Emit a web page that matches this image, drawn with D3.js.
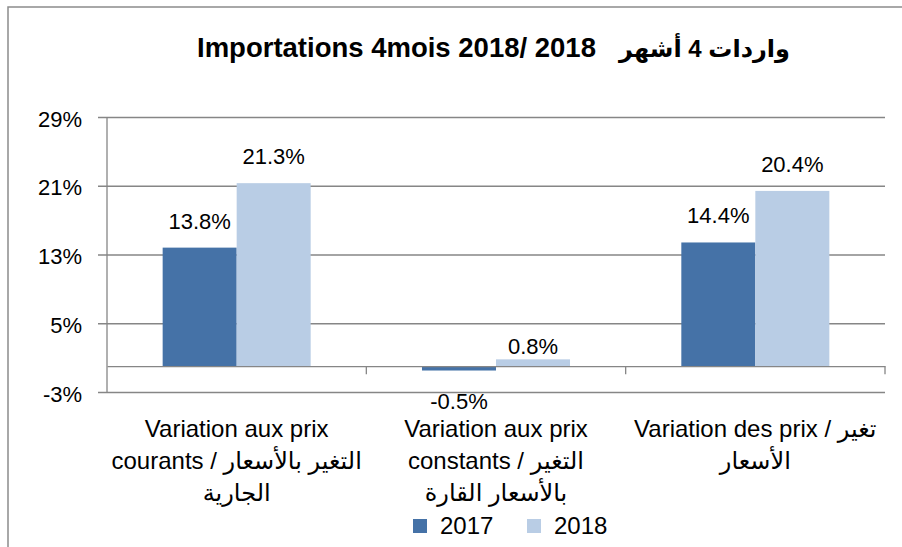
<!DOCTYPE html>
<html>
<head>
<meta charset="utf-8">
<script src="https://cdn.jsdelivr.net/npm/d3@7"></script>
<style>
  body { margin: 0; background: #fff; }
  svg { display: block; }
  text { font-family: "Liberation Sans", "DejaVu Sans", sans-serif; fill: #000; }
</style>
</head>
<body>
<div id="chart"></div>
<script>
// data
var categories = ["prixCourants", "prixConstants", "desPrix"];
var categoryLines = [
  ["Variation aux prix", "courants /  التغير بالأسعار", "الجارية"],
  ["Variation aux prix", "constants /  التغير", "بالأسعار القارة"],
  ["Variation des prix /  تغير", "الأسعار"]
];
var series = ["2017", "2018"];
var values2017 = [13.8, -0.5, 14.4];
var values2018 = [21.3, 0.8, 20.4];
var yTicks = [-3, 5, 13, 21, 29];

var cfg = {
  w: 902,
  h: 547,
  plot: {left: 107, right: 885, top: 117, bottom: 392},
  color: ["#4572a7", "#b9cde5"],
  grid: "#868686"
};

var data = categories.map(function(c, i) {
  return {cat: c, lines: categoryLines[i], vals: [
    {s: series[0], v: values2017[i]},
    {s: series[1], v: values2018[i]}
  ]};
});

var svg = d3.select("#chart")
  .append("svg")
  .attr("width", cfg.w)
  .attr("height", cfg.h);

// outer chart border
svg.append("rect")
  .attr("x", 8).attr("y", 7)
  .attr("width", cfg.w).attr("height", cfg.h)
  .attr("fill", "none")
  .attr("stroke", "#8c8c8c")
  .attr("stroke-width", 1.5);

// title
svg.append("text")
  .attr("x", 197).attr("y", 57)
  .attr("font-size", "27.5px").attr("font-weight", "bold")
  .text("Importations 4mois 2018/ 2018");
svg.append("text")
  .attr("x", 790).attr("y", 57)
  .attr("text-anchor", "end")
  .attr("font-size", "24px").attr("font-weight", "bold")
  .text("واردات 4 أشهر");

// scales
var x0 = d3.scaleBand()
  .domain(categories)
  .range([cfg.plot.left, cfg.plot.right]);

var x1 = d3.scaleBand()
  .domain(series)
  .range([0, x0.bandwidth()])
  .paddingOuter(0.752);

var y = d3.scaleLinear()
  .domain([yTicks[0], yTicks[yTicks.length - 1]])
  .range([cfg.plot.bottom, cfg.plot.top]);

// gridlines + y axis
var yAxis = svg.append("g")
  .attr("transform", "translate(" + cfg.plot.left + ",0)")
  .call(d3.axisLeft(y)
    .tickValues(yTicks)
    .tickSize(-(cfg.plot.right - cfg.plot.left))
    .tickPadding(0)
    .tickFormat(function(d) { return d + "%"; }));
yAxis.select(".domain").remove();
yAxis.selectAll("line")
  .attr("x1", -9)
  .attr("stroke", cfg.grid)
  .attr("stroke-width", 1.3);
yAxis.selectAll("text")
  .attr("x", -25)
  .attr("dy", null)
  .attr("y", 9)
  .attr("font-size", "22px")
  .attr("fill", "#000");

svg.append("line")
  .attr("x1", cfg.plot.left).attr("x2", cfg.plot.left)
  .attr("y1", cfg.plot.top).attr("y2", cfg.plot.bottom)
  .attr("stroke", cfg.grid).attr("stroke-width", 1.3);

// bars
var groups = svg.selectAll(".grp")
  .data(data)
  .enter()
  .append("g")
  .attr("class", "grp")
  .attr("transform", function(d) { return "translate(" + x0(d.cat) + ",0)"; });

groups.selectAll("rect")
  .data(function(d) { return d.vals; })
  .enter()
  .append("rect")
  .attr("x", function(d) { return x1(d.s); })
  .attr("y", function(d) { return y(Math.max(0, d.v)); })
  .attr("width", x1.bandwidth())
  .attr("height", function(d) { return Math.abs(y(d.v) - y(0)); })
  .attr("fill", function(d, i) { return cfg.color[i]; });

// value labels
groups.selectAll(".val")
  .data(function(d) { return d.vals; })
  .enter()
  .append("text")
  .attr("class", "val")
  .attr("x", function(d) { return x1(d.s) + x1.bandwidth() / 2; })
  .attr("y", function(d) {
    if (d.v < 0) return y(d.v) + 38;
    if (d.v < 2) return y(d.v) - 5;
    return y(d.v) - 19;
  })
  .attr("text-anchor", "middle")
  .attr("font-size", "22px")
  .text(function(d) { return d.v.toFixed(1) + "%"; });

// category axis at zero
var xAxis = svg.append("g")
  .attr("transform", "translate(0," + y(0) + ")")
  .call(d3.axisBottom(x0).tickSize(0).tickFormat(""));
xAxis.select(".domain")
  .attr("stroke", cfg.grid).attr("stroke-width", 1.3);
xAxis.selectAll(".sep")
  .data(categories)
  .enter()
  .append("line")
  .attr("x1", function(d) { return x0(d) + x0.bandwidth(); })
  .attr("x2", function(d) { return x0(d) + x0.bandwidth(); })
  .attr("y1", 0).attr("y2", 8)
  .attr("stroke", cfg.grid).attr("stroke-width", 1.3);

// category labels
groups.append("text")
  .attr("text-anchor", "middle")
  .attr("font-size", "24px")
  .selectAll("tspan")
  .data(function(d) { return d.lines; })
  .enter()
  .append("tspan")
  .attr("x", x0.bandwidth() / 2)
  .attr("y", function(d, i) { return 437 + i * 32; })
  .text(function(d) { return d; });

// legend
var legend = svg.append("g")
  .selectAll("g")
  .data(series)
  .enter()
  .append("g")
  .attr("transform", function(d, i) { return "translate(" + (413 + i * 114) + ",519)"; });
legend.append("rect")
  .attr("width", 14).attr("height", 14)
  .attr("fill", function(d, i) { return cfg.color[i]; });
legend.append("text")
  .attr("x", 27).attr("y", 15)
  .attr("font-size", "24px")
  .text(function(d) { return d; });
</script>
</body>
</html>
